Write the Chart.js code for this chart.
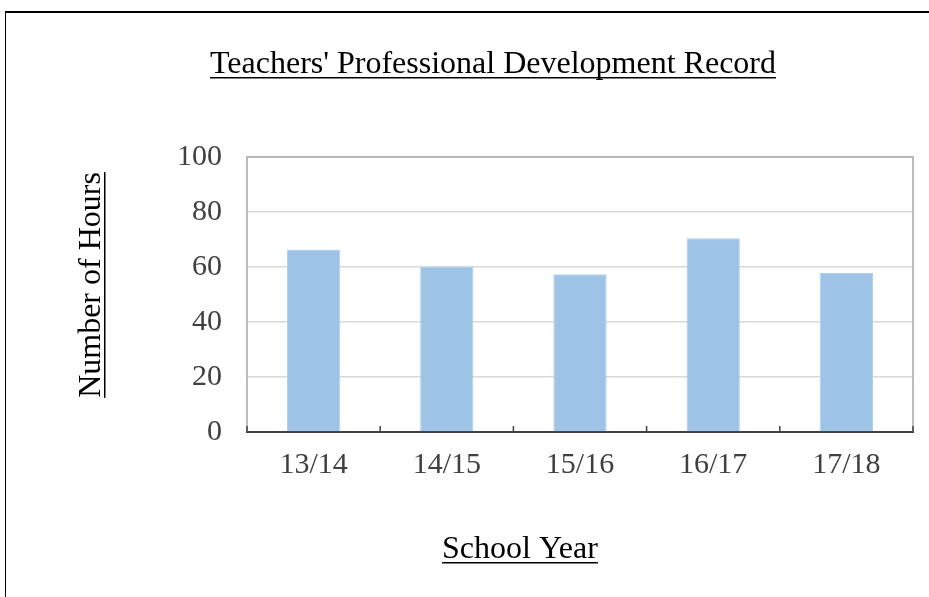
<!DOCTYPE html>
<html>
<head>
<meta charset="utf-8">
<script src="https://cdn.jsdelivr.net/npm/chart.js@4.4.1/dist/chart.umd.min.js"></script>
<style>
    html, body { margin: 0; padding: 0; background: #fff; overflow: hidden; }
    #frame { position: absolute; left: 5px; top: 11px; width: 960px; height: 640px; border-top: 2px solid #000; border-left: 1px solid #000; }
    #wrap { position: absolute; left: 0; top: 0; width: 929px; height: 597px; }
</style>
</head>
<body>
<div id="frame"></div>
<div id="wrap"><canvas id="chart" width="929" height="597"></canvas></div>
<script>
// data
const schoolYears = ['13/14', '14/15', '15/16', '16/17', '17/18'];
const hours = [66.2, 60, 57.4, 70.5, 57.8];
const yTicks = [0, 20, 40, 60, 80, 100];

const chartTitle = "Teachers' Professional Development Record";
const xTitle = 'School Year';
const yTitle = 'Number of Hours';

const serif = '"Liberation Serif", "Times New Roman", serif';

function underlinedText(ctx, text, x, y, size, rotate) {
    ctx.save();
    ctx.translate(x, y);
    if (rotate) ctx.rotate(-Math.PI / 2);
    ctx.font = size + 'px ' + serif;
    ctx.fillStyle = '#000';
    ctx.textAlign = 'center';
    ctx.textBaseline = 'alphabetic';
    ctx.fillText(text, 0, 0);
    let w = ctx.measureText(text).width;
    ctx.fillRect(-w / 2, 4, w, 1.5);
    ctx.restore();
}

// title, axis titles (underlined), plot frame and the short x tick marks
const decorations = {
    id: 'decorations',
    beforeDatasetsDraw(chart) {
        let ctx = chart.ctx;
        let a = chart.chartArea;
        ctx.save();
        ctx.strokeStyle = '#a6a6a6';
        ctx.lineWidth = 1.5;
        ctx.beginPath();
        ctx.moveTo(a.left, a.bottom);
        ctx.lineTo(a.left, a.top);
        ctx.lineTo(a.right, a.top);
        ctx.lineTo(a.right, a.bottom);
        ctx.stroke();
        ctx.restore();
    },
    afterDraw(chart) {
        let ctx = chart.ctx;
        let a = chart.chartArea;
        let xs = chart.scales.x;
        let n = schoolYears.length;
        ctx.save();
        ctx.strokeStyle = '#404040';
        ctx.lineWidth = 1.5;
        for (let i = 0; i <= n; i++) {
            let px = xs.left + i * (xs.width / n);
            ctx.beginPath();
            ctx.moveTo(px, a.bottom);
            ctx.lineTo(px, a.bottom - 6);
            ctx.stroke();
        }
        ctx.restore();

        underlinedText(ctx, chartTitle, 493, 73, 32, false);
        underlinedText(ctx, xTitle, 520, 558, 32, false);
        underlinedText(ctx, yTitle, 100, 285, 32, true);
    }
};

new Chart(document.getElementById('chart'), {
    type: 'bar',
    data: {
        labels: schoolYears,
        datasets: [{
            label: yTitle,
            data: hours,
            backgroundColor: '#9dc3e6',
            borderColor: '#add0ee',
            borderWidth: 1,
            barPercentage: 0.4,
            categoryPercentage: 1
        }]
    },
    options: {
        responsive: false,
        animation: false,
        devicePixelRatio: 1,
        layout: { padding: { top: 157, right: 16, bottom: 0, left: 0 } },
        plugins: {
            legend: { display: false },
            title: { display: false },
            tooltip: { enabled: false }
        },
        scales: {
            x: {
                grid: { display: false, drawTicks: false },
                border: { display: true, color: '#404040', width: 2 },
                ticks: {
                    color: '#404040',
                    padding: 15,
                    font: { family: serif, size: 30 }
                },
                afterFit(scale) { scale.height = 165; }
            },
            y: {
                min: 0,
                max: 100,
                afterBuildTicks(scale) { scale.ticks = yTicks.map(v => ({ value: v })); },
                grid: { color: '#d9d9d9', lineWidth: 1.5, drawTicks: false },
                border: { display: false },
                ticks: {
                    color: '#404040',
                    padding: 25,
                    font: { family: serif, size: 30 }
                },
                afterFit(scale) { scale.width = 247; }
            }
        }
    },
    plugins: [decorations]
});
</script>
</body>
</html>
